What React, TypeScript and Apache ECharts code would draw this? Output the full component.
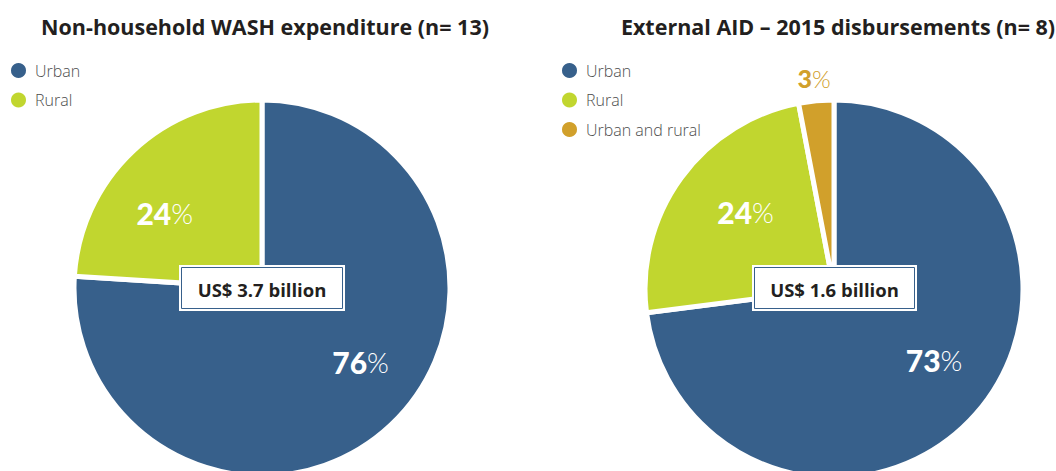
import React, { useEffect, useRef } from "react";
import * as echarts from "echarts";

const leftTitle = "Non-household WASH expenditure (n= 13)";
const rightTitle = "External AID – 2015 disbursements (n= 8)";
const leftCategories = ["Urban", "Rural"];
const leftValues = [76, 24];
const rightCategories = ["Urban", "Rural", "Urban and rural"];
const rightValues = [73, 24, 3];
const totalLabels = ["US$ 3.7 billion", "US$ 1.6 billion"];

const COLORS: Record<string, string> = {
  Urban: "#37608b",
  Rural: "#c1d62f",
  "Urban and rural": "#d1a02b",
};

const PIES = [
  { cx: 262, cy: 288, r: 188 },
  { cx: 834, cy: 289, r: 189 },
];

// label placement tweaks (degrees of rotation from slice mid-angle, radius factor)
const leftLabelAngles = [-10, -9];
const rightLabelAngles = [-6, 5, 0];
const leftLabelRadius = [0.655, 0.655];
const rightLabelRadius = [0.65, 0.62, 1.12];

function makeLayout(
  values: number[],
  pie: { cx: number; cy: number; r: number },
  angleOffsets: number[],
  radiusFactors: number[]
) {
  const sum = values.reduce((a, b) => a + b, 0);
  return (params: any) => {
    const idx = params.dataIndex;
    let cum = 0;
    for (let i = 0; i < idx; i++) cum += values[i];
    const v = values[idx];
    const angle = ((cum + v / 2) / sum) * 360 + angleOffsets[idx];
    const rad = (angle * Math.PI) / 180;
    const factor = radiusFactors[idx];
    return {
      x: pie.cx + Math.sin(rad) * pie.r * factor,
      y: pie.cy - Math.cos(rad) * pie.r * factor,
      align: "center",
      verticalAlign: "middle",
    };
  };
}

function makeData(cats: string[], vals: number[]) {
  const sum = vals.reduce((a, b) => a + b, 0);
  return cats.map((c, i) => {
    const small = vals[i] / sum < 0.05;
    return {
      name: c,
      value: vals[i],
      itemStyle: { color: COLORS[c] },
      label: {
        formatter: small ? "{ns|{c}}{ps|%}" : "{n|{c}}{p|%}",
      },
    };
  });
}

const richLabel = {
  n: { fontFamily: "Lato", fontWeight: 900, fontSize: 30, color: "#ffffff" },
  p: { fontFamily: "Lato", fontWeight: 300, fontSize: 28, color: "#ffffff" },
  ns: { fontFamily: "Lato", fontWeight: 900, fontSize: 25, color: "#d1a02b" },
  ps: { fontFamily: "Lato", fontWeight: 300, fontSize: 24, color: "#d1a02b" },
};

function box(cx: number, cy: number, w: number, h: number, text: string) {
  return {
    type: "group",
    z: 100,
    children: [
      { type: "rect", z: 100, shape: { x: cx - w / 2, y: cy - h / 2, width: w, height: h }, style: { fill: "#ffffff" } },
      {
        type: "rect",
        z: 101,
        shape: { x: cx - w / 2 + 2.5, y: cy - h / 2 + 2.5, width: w - 5, height: h - 5 },
        style: { fill: "#ffffff", stroke: "#37608b", lineWidth: 1 },
      },
      {
        type: "text",
        z: 102,
        x: cx,
        y: cy + 1,
        style: {
          text,
          fontFamily: "Open Sans",
          fontWeight: "bold",
          fontSize: 18.5,
          fill: "#231f20",
          align: "center",
          verticalAlign: "middle",
        },
      },
    ],
  };
}

function title(x: number, text: string) {
  return {
    type: "text",
    x,
    y: 26,
    style: {
      text,
      fontFamily: "Open Sans",
      fontWeight: "bold",
      fontSize: 21.5,
      fill: "#231f20",
      align: "center",
      verticalAlign: "middle",
    },
  };
}

export default function App() {
  const ref = useRef<HTMLDivElement>(null);
  useEffect(() => {
    if (!ref.current) return;
    const chart = echarts.init(ref.current, null, { renderer: "svg" });
    const legendText = {
      fontFamily: "Open Sans",
      fontWeight: 300,
      fontSize: 16,
      lineHeight: 17,
      color: "#4d4d4d",
      padding: [0, 0, 0, 3],
    };
    const legendBase = {
      orient: "vertical",
      top: 61,
      padding: 0,
      icon: "circle",
      itemWidth: 17,
      itemHeight: 17,
      itemGap: 10.5,
      textStyle: legendText,
      selectedMode: false,
    };
    chart.setOption({
      animation: false,
      backgroundColor: "#ffffff",
      legend: [
        { ...legendBase, data: leftCategories, left: 9 },
        { ...legendBase, data: rightCategories, left: 560 },
      ],
      series: [
        {
          type: "pie",
          center: [PIES[0].cx, PIES[0].cy],
          radius: PIES[0].r,
          startAngle: 90,
          clockwise: true,
          silent: true,
          itemStyle: { borderColor: "#ffffff", borderWidth: 5 },
          label: { show: true, position: "inside", rich: richLabel },
          labelLine: { show: false },
          labelLayout: makeLayout(leftValues, PIES[0], leftLabelAngles, leftLabelRadius),
          emphasis: { disabled: true },
          data: makeData(leftCategories, leftValues),
        },
        {
          type: "pie",
          center: [PIES[1].cx, PIES[1].cy],
          radius: PIES[1].r,
          startAngle: 90,
          clockwise: true,
          silent: true,
          itemStyle: { borderColor: "#ffffff", borderWidth: 5 },
          label: { show: true, position: "inside", rich: richLabel },
          labelLine: { show: false },
          labelLayout: makeLayout(rightValues, PIES[1], rightLabelAngles, rightLabelRadius),
          emphasis: { disabled: true },
          data: makeData(rightCategories, rightValues),
        },
      ],
      graphic: [
        title(265, leftTitle),
        title(838, rightTitle),
        box(262, 288, 166, 46, totalLabels[0]),
        box(834.5, 288, 165, 46, totalLabels[1]),
      ],
    });
    return () => chart.dispose();
  }, []);
  return (
    <div
      ref={ref}
      style={{ position: "absolute", left: 0, top: 0, width: 1056, height: 471 }}
    />
  );
}
